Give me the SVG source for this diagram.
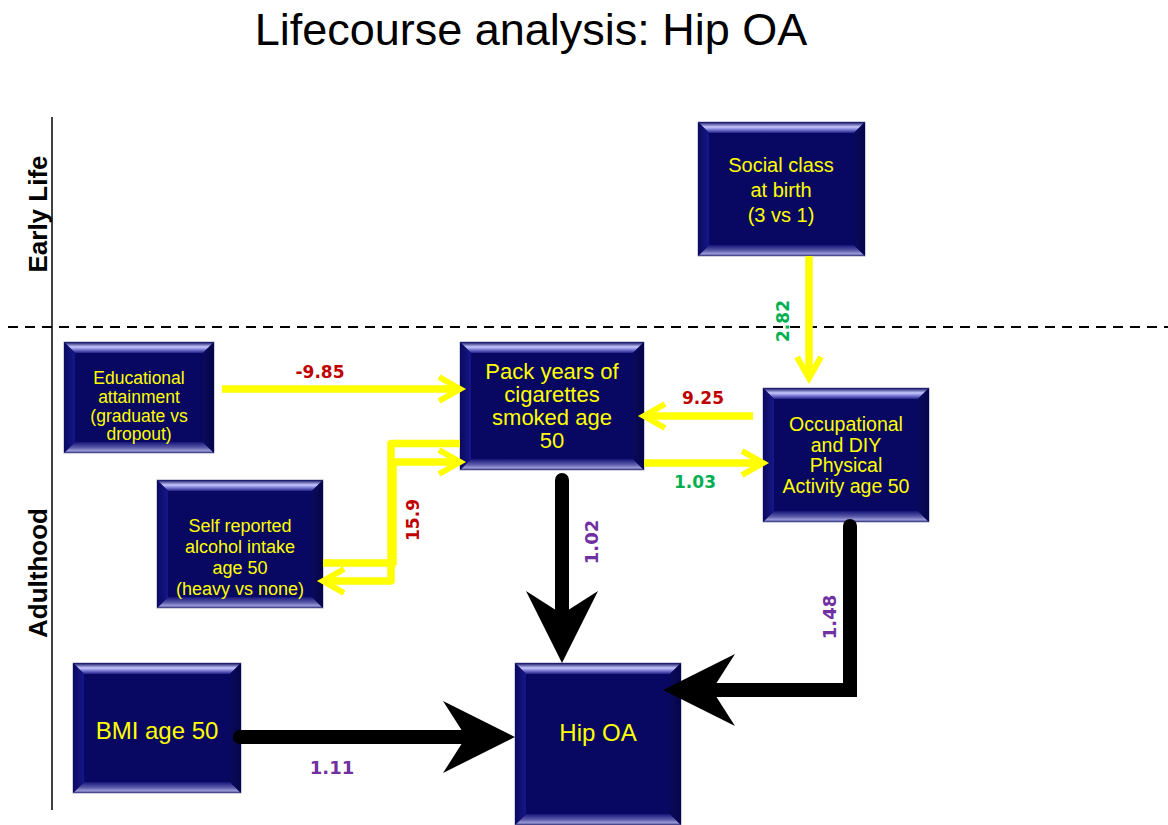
<svg xmlns="http://www.w3.org/2000/svg" width="1168" height="825" viewBox="0 0 1168 825">
<defs>
<linearGradient id="gt" x1="0" y1="0" x2="0" y2="1"><stop offset="0" stop-color="#0b0b5e"/><stop offset="0.45" stop-color="#c8c8ff"/><stop offset="0.7" stop-color="#7a7ad0"/><stop offset="1" stop-color="#20208a"/></linearGradient>
<linearGradient id="gb" x1="0" y1="0" x2="0" y2="1"><stop offset="0" stop-color="#15157a"/><stop offset="0.5" stop-color="#5a5aa8"/><stop offset="0.8" stop-color="#9a9ad8"/><stop offset="1" stop-color="#30307a"/></linearGradient>
<linearGradient id="gl" x1="0" y1="0" x2="1" y2="0"><stop offset="0" stop-color="#0a0a60"/><stop offset="1" stop-color="#16168a"/></linearGradient>
<linearGradient id="gr" x1="0" y1="0" x2="1" y2="0"><stop offset="0" stop-color="#0a0a5a"/><stop offset="1" stop-color="#05054a"/></linearGradient>
<marker id="ya" markerUnits="userSpaceOnUse" orient="auto" refX="0" refY="0" markerWidth="40" markerHeight="40" overflow="visible"><path d="M-18,-12 L3,0 L-18,12" fill="none" stroke="#ffff00" stroke-width="6"/></marker>
<marker id="ba" markerUnits="userSpaceOnUse" orient="auto" refX="0" refY="0" markerWidth="100" markerHeight="100" overflow="visible"><path d="M45,0 L-27,-36 L-4,0 L-27,36 Z" fill="#000"/></marker>
<style>
.bx{fill:#080862;stroke:#a0a0c0;stroke-width:1}
.bt{fill:url(#gt)}.bb{fill:url(#gb)}.bl{fill:url(#gl)}.br{fill:url(#gr)}
.nt{font-family:"Liberation Sans",Arial,sans-serif;fill:#ffff00;text-anchor:middle}
.y{fill:none;stroke:#ffff00;stroke-width:7.5;marker-end:url(#ya)}
.yj{fill:none;stroke:#ffff00;stroke-width:7.5;stroke-linejoin:round;marker-end:url(#ya)}
.k{fill:none;stroke:#000;stroke-width:14;stroke-linecap:round;stroke-linejoin:miter;marker-end:url(#ba)}
.lb{font-family:"DejaVu Sans",Verdana,sans-serif;font-weight:bold;text-anchor:middle}
.red{fill:#c00000;font-size:17px}.grn{fill:#00b050;font-size:17px}.pur{fill:#7030a0;font-size:18px}
.ax{font-family:"Liberation Sans",Arial,sans-serif;font-weight:bold;font-size:26px;fill:#000;text-anchor:middle}
</style>
</defs>
<rect width="1168" height="825" fill="#fff"/>
<text x="531" y="45" font-family="Liberation Sans,Arial,sans-serif" font-size="45" text-anchor="middle" fill="#000">Lifecourse analysis: Hip OA</text>
<g id="axis">
<line x1="52" y1="117" x2="52" y2="810" stroke="#000" stroke-width="1.5"/>
<line x1="8" y1="327" x2="1168" y2="327" stroke="#000" stroke-width="2" stroke-dasharray="10 7"/>
<text class="ax" transform="translate(47,214) rotate(-90)">Early Life</text>
<text class="ax" transform="translate(47,573) rotate(-90)">Adulthood</text>
</g>
<g id="social">
<rect class="bx" x="698" y="122" width="167" height="134"/>
<polygon class="bt" points="698,122 865,122 854,133 709,133"/>
<polygon class="bb" points="709,245 854,245 865,256 698,256"/>
<polygon class="bl" points="698,122 709,133 709,245 698,256"/>
<polygon class="br" points="865,122 854,133 854,245 865,256"/>
<text class="nt" font-size="20"><tspan x="781" y="172">Social class</tspan><tspan x="781" y="197">at birth</tspan><tspan x="781" y="222">(3 vs 1)</tspan></text>
</g>
<g id="education">
<rect class="bx" x="64" y="342" width="150" height="111"/>
<polygon class="bt" points="64,342 214,342 203,353 75,353"/>
<polygon class="bb" points="75,442 203,442 214,453 64,453"/>
<polygon class="bl" points="64,342 75,353 75,442 64,453"/>
<polygon class="br" points="214,342 203,353 203,442 214,453"/>
<text class="nt" font-size="17.5"><tspan x="139" y="384">Educational</tspan><tspan x="139" y="403">attainment</tspan><tspan x="139" y="421.5">(graduate vs</tspan><tspan x="139" y="440">dropout)</tspan></text>
</g>
<g id="packyears">
<rect class="bx" x="460" y="342" width="184" height="128"/>
<polygon class="bt" points="460,342 644,342 633,353 471,353"/>
<polygon class="bb" points="471,459 633,459 644,470 460,470"/>
<polygon class="bl" points="460,342 471,353 471,459 460,470"/>
<polygon class="br" points="644,342 633,353 633,459 644,470"/>
<text class="nt" font-size="22"><tspan x="552" y="379">Pack years of</tspan><tspan x="552" y="402">cigarettes</tspan><tspan x="552" y="425">smoked age</tspan><tspan x="552" y="448">50</tspan></text>
</g>
<g id="occupational">
<rect class="bx" x="763" y="388" width="166" height="134"/>
<polygon class="bt" points="763,388 929,388 918,399 774,399"/>
<polygon class="bb" points="774,511 918,511 929,522 763,522"/>
<polygon class="bl" points="763,388 774,399 774,511 763,522"/>
<polygon class="br" points="929,388 918,399 918,511 929,522"/>
<text class="nt" font-size="19.5"><tspan x="846" y="431">Occupational</tspan><tspan x="846" y="451.5">and DIY</tspan><tspan x="846" y="472">Physical</tspan><tspan x="846" y="492.5">Activity age 50</tspan></text>
</g>
<g id="alcohol">
<rect class="bx" x="157" y="480" width="166" height="128"/>
<polygon class="bt" points="157,480 323,480 312,491 168,491"/>
<polygon class="bb" points="168,597 312,597 323,608 157,608"/>
<polygon class="bl" points="157,480 168,491 168,597 157,608"/>
<polygon class="br" points="323,480 312,491 312,597 323,608"/>
<text class="nt" font-size="18"><tspan x="240" y="531.5">Self reported</tspan><tspan x="240" y="552.5">alcohol intake</tspan><tspan x="240" y="573.5">age 50</tspan><tspan x="240" y="594.5">(heavy vs none)</tspan></text>
</g>
<g id="bmi">
<rect class="bx" x="73" y="663" width="168" height="130"/>
<polygon class="bt" points="73,663 241,663 230,674 84,674"/>
<polygon class="bb" points="84,782 230,782 241,793 73,793"/>
<polygon class="bl" points="73,663 84,674 84,782 73,793"/>
<polygon class="br" points="241,663 230,674 230,782 241,793"/>
<text class="nt" font-size="24" x="157" y="738.5">BMI age 50</text>
</g>
<g id="hipoa">
<rect class="bx" x="515" y="663" width="166" height="162"/>
<polygon class="bt" points="515,663 681,663 670,674 526,674"/>
<polygon class="bb" points="526,814 670,814 681,825 515,825"/>
<polygon class="bl" points="515,663 526,674 526,814 515,825"/>
<polygon class="br" points="681,663 670,674 670,814 681,825"/>
<text class="nt" font-size="24" x="598" y="740.5">Hip OA</text>
</g>
<g id="connectors">
<line class="y" x1="222" y1="389" x2="457" y2="389"/>
<polyline class="yj" points="460,443.5 391,443.5 391,581 326,581"/>
<polyline class="yj" points="323,563 393,563 393,462 457,462"/>
<line class="y" x1="753" y1="416" x2="647" y2="416"/>
<line class="y" x1="644" y1="463" x2="760" y2="463"/>
<line class="y" x1="809" y1="256" x2="809" y2="375"/>
<polyline class="k" points="562,480 562,618"/>
<polyline class="k" points="850,526 850,690 708,690"/>
<polyline class="k" points="240,737 470,737"/>
<text class="lb red" x="320" y="378">-9.85</text>
<text class="lb red" transform="translate(419,520) rotate(-90)">15.9</text>
<text class="lb red" x="703" y="404">9.25</text>
<text class="lb grn" x="695" y="488">1.03</text>
<text class="lb grn" transform="translate(789,321) rotate(-90)">2.82</text>
<text class="lb pur" transform="translate(598,542) rotate(-90)">1.02</text>
<text class="lb pur" transform="translate(836,617) rotate(-90)">1.48</text>
<text class="lb pur" x="332" y="774">1.11</text>
</g>
</svg>
